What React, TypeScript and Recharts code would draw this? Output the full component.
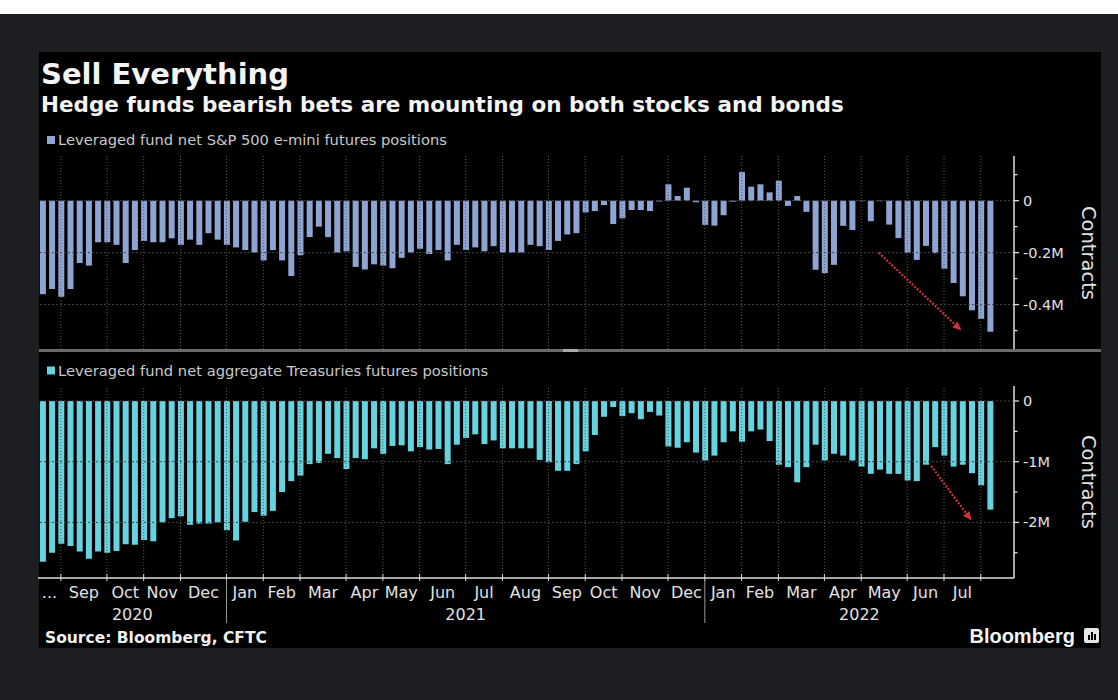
import React from "react";
import { Bar, BarChart, ReferenceLine, XAxis, YAxis } from "recharts";

// weekly CFTC reports, first one in the chart
const FIRST_WEEK = "2020-08-18";

// leveraged fund net S&P 500 e-mini futures positions (millions of contracts)
const spxPositions = [
  -0.36, -0.34, -0.37, -0.34, -0.24, -0.25, -0.16, -0.16, -0.17, -0.24,
  -0.19, -0.155, -0.16, -0.16, -0.145, -0.17, -0.15, -0.17, -0.125, -0.15,
  -0.17, -0.18, -0.19, -0.2, -0.23, -0.19, -0.23, -0.29, -0.21, -0.14,
  -0.1, -0.14, -0.2, -0.195, -0.255, -0.265, -0.245, -0.25, -0.26, -0.22,
  -0.2, -0.185, -0.205, -0.19, -0.23, -0.17, -0.19, -0.18, -0.195, -0.175,
  -0.2, -0.2, -0.2, -0.17, -0.175, -0.19, -0.155, -0.13, -0.125, -0.045,
  -0.04, -0.017, -0.09, -0.068, -0.036, -0.036, -0.04, -0.003, 0.063, 0.018,
  0.05, -0.006, -0.093, -0.096, -0.056, -0.004, 0.11, 0.054, 0.063, 0.032,
  0.077, -0.02, 0.018, -0.043, -0.266, -0.279, -0.247, -0.097, -0.113, -0.002,
  -0.079, -0.002, -0.092, -0.144, -0.202, -0.228, -0.174, -0.202, -0.262, -0.317,
  -0.368, -0.422, -0.455, -0.505,
];

// leveraged fund net aggregate Treasuries futures positions (millions of contracts)
const tsyPositions = [
  -2.65, -2.5, -2.35, -2.39, -2.48, -2.6, -2.48, -2.5, -2.47, -2.36,
  -2.37, -2.29, -2.31, -2.0, -1.93, -1.9, -2.04, -2.02, -2.02, -2.0,
  -2.13, -2.3, -1.99, -1.83, -1.89, -1.81, -1.5, -1.32, -1.23, -1.04,
  -1.02, -0.87, -0.94, -1.12, -0.94, -0.96, -0.78, -0.87, -0.74, -0.73,
  -0.83, -0.76, -0.8, -0.79, -1.04, -0.72, -0.61, -0.55, -0.71, -0.65,
  -0.78, -0.78, -0.78, -0.78, -0.97, -1.01, -1.15, -1.15, -1.04, -0.83,
  -0.56, -0.26, -0.1, -0.25, -0.2, -0.3, -0.18, -0.24, -0.75, -0.77,
  -0.68, -0.85, -0.98, -0.9, -0.68, -0.5, -0.67, -0.5, -0.47, -0.66,
  -1.05, -1.09, -1.34, -1.09, -0.72, -0.98, -0.87, -0.9, -0.98, -1.08,
  -1.2, -1.13, -1.2, -1.2, -1.31, -1.32, -1.05, -0.76, -0.9, -1.08,
  -1.05, -1.19, -1.39, -1.79,
];

// one label per calendar month touched by the data (first and last are partial)
const monthLabels = [
  "...", "Sep", "Oct", "Nov", "Dec",
  "Jan", "Feb", "Mar", "Apr", "May", "Jun", "Jul", "Aug", "Sep", "Oct", "Nov", "Dec",
  "Jan", "Feb", "Mar", "Apr", "May", "Jun", "Jul", "",
];
const yearLabels = ["2020", "2021", "2022"];

const spxMajorTicks = [0, -0.2, -0.4];
const spxMinorTicks = [0.1, -0.1, -0.3, -0.5];
const tsyMajorTicks = [0, -1, -2];
const tsyMinorTicks = [-0.5, -1.5, -2.5];

// hand-drawn red arrows (week index, value)
const spxArrow = [{ x: 90.9, y: -0.2 }, { x: 99.9, y: -0.5 }];
const tsyArrow = [{ x: 96.6, y: -1.07 }, { x: 101, y: -1.97 }];

const PAGE_BG = "#1c1e21";
const SPX_COLOR = "#8ea4d2";
const TSY_COLOR = "#66d3e0";
const AXIS = "#dcdcdc";
const TEXT = "#e2e2e2";
const RED = "#d0313b";
const FONT = "DejaVu Sans, Verdana, sans-serif";

const PLOT_LEFT = 38;
const PLOT_RIGHT = 1014;
const AXIS_W = 87;
const X_MIN = -0.49;
const X_MAX = 105.61;

const weeks = spxPositions.map((_, i) => {
  const d = new Date(FIRST_WEEK + "T00:00:00Z");
  d.setUTCDate(d.getUTCDate() + 7 * i);
  return d;
});

const data = spxPositions.map((v, i) => ({ i, spx: v, tsy: tsyPositions[i] }));

// first bar of every month / year
const monthStarts: number[] = [];
const yearStarts: number[] = [];
weeks.forEach((d, i) => {
  if (i === 0 || d.getUTCMonth() !== weeks[i - 1].getUTCMonth()) monthStarts.push(i);
  if (i > 0 && d.getUTCFullYear() !== weeks[i - 1].getUTCFullYear()) yearStarts.push(i);
});
const gridIdx = monthStarts.slice(1);
const monthCenters = monthStarts.map((s, k) => {
  const a = k === 0 ? X_MIN : s;
  const b = k + 1 < monthStarts.length ? monthStarts[k + 1] : X_MAX;
  return (a + b) / 2;
});
const yearBounds = [X_MIN, ...yearStarts, X_MAX];
const yearCenters = yearLabels.map((_, k) => (yearBounds[k] + yearBounds[k + 1]) / 2);

const fmtM = (v: number) => (v === 0 ? "0" : `${v}M`);

function ValueTick(props: any) {
  const { x, y, payload, majors } = props;
  const major = majors.includes(payload.value);
  return (
    <g>
      <line x1={x} x2={x + (major ? 5 : 3.5)} y1={y} y2={y} stroke={AXIS} strokeWidth={1.3} />
      {major && (
        <text x={x + 9} y={y + 5} fill={TEXT} fontSize={14.5} fontFamily={FONT}>
          {fmtM(payload.value)}
        </text>
      )}
    </g>
  );
}

function MonthTick(props: any) {
  const { x, y, payload } = props;
  const k = monthCenters.indexOf(payload.value);
  if (k < 0) {
    return <line x1={x} x2={x} y1={y - 4} y2={y + 3} stroke={AXIS} strokeWidth={1} />;
  }
  return (
    <text x={x} y={y + 20} textAnchor="middle" fill={TEXT} fontSize={16} fontFamily={FONT}>
      {monthLabels[k]}
    </text>
  );
}

function YearTick(props: any) {
  const { x, y, payload } = props;
  const k = yearCenters.indexOf(payload.value);
  if (k < 0) {
    return <line x1={x} x2={x} y1={y - 19} y2={y + 24} stroke="#9a9a9a" strokeWidth={1} />;
  }
  return (
    <text x={x} y={y + 21} textAnchor="middle" fill={TEXT} fontSize={16} fontFamily={FONT}>
      {yearLabels[k]}
    </text>
  );
}

function Arrow(props: any) {
  const { x1, y1, x2, y2 } = props;
  const a = Math.atan2(y2 - y1, x2 - x1);
  const len = 9;
  const w = 4;
  const bx = x2 - len * Math.cos(a);
  const by = y2 - len * Math.sin(a);
  const pts = [
    `${x2},${y2}`,
    `${bx + w * Math.sin(a)},${by - w * Math.cos(a)}`,
    `${bx - w * Math.sin(a)},${by + w * Math.cos(a)}`,
  ].join(" ");
  return (
    <g>
      <line x1={x1} y1={y1} x2={bx} y2={by} stroke={RED} strokeWidth={2.2} strokeDasharray="2 1.5" />
      <polygon points={pts} fill={RED} />
    </g>
  );
}

function grid(majors: number[]) {
  return [
    ...gridIdx.map((g) => (
      <ReferenceLine key={`v${g}`} x={g} xAxisId="m" stroke="#5a5a5a" strokeDasharray="1 2" />
    )),
    ...majors.map((v) => (
      <ReferenceLine key={`h${v}`} y={v} xAxisId="m" stroke="#444" strokeDasharray="2 2" />
    )),
  ];
}

function SpxChart() {
  return (
    <BarChart
      width={PLOT_RIGHT - PLOT_LEFT + AXIS_W}
      height={193}
      data={data}
      margin={{ top: 0, right: 0, bottom: 0, left: 0 }}
    >
      <XAxis xAxisId="m" dataKey="i" type="number" domain={[X_MIN, X_MAX]} allowDataOverflow hide />
      <YAxis
        orientation="right"
        width={AXIS_W}
        domain={[-0.571, 0.172]}
        allowDataOverflow
        ticks={[...spxMajorTicks, ...spxMinorTicks]}
        interval={0}
        tickSize={0}
        tickMargin={0}
        tickLine={false}
        axisLine={{ stroke: AXIS, strokeWidth: 1.5 }}
        tick={(p: any) => <ValueTick {...p} majors={spxMajorTicks} />}
      />
      {grid(spxMajorTicks)}
      <Bar dataKey="spx" xAxisId="m" fill={SPX_COLOR} barSize={6} isAnimationActive={false} />
      <ReferenceLine xAxisId="m" segment={spxArrow} stroke={RED} shape={(p: any) => <Arrow {...p} />} />
    </BarChart>
  );
}

function TsyChart() {
  return (
    <BarChart
      width={PLOT_RIGHT - PLOT_LEFT + AXIS_W}
      height={192 + 21 + 32}
      data={data}
      margin={{ top: 0, right: 0, bottom: 0, left: 0 }}
    >
      <XAxis
        xAxisId="m"
        dataKey="i"
        type="number"
        domain={[X_MIN, X_MAX]}
        allowDataOverflow
        height={21}
        ticks={[...monthCenters, ...gridIdx]}
        interval={0}
        tickSize={0}
        tickMargin={0}
        tickLine={false}
        axisLine={{ stroke: AXIS, strokeWidth: 1.5 }}
        tick={(p: any) => <MonthTick {...p} />}
      />
      <XAxis
        xAxisId="y"
        dataKey="i"
        type="number"
        domain={[X_MIN, X_MAX]}
        allowDataOverflow
        height={32}
        ticks={[...yearCenters, ...yearStarts]}
        interval={0}
        tickSize={0}
        tickMargin={0}
        tickLine={false}
        axisLine={false}
        tick={(p: any) => <YearTick {...p} />}
      />
      <YAxis
        orientation="right"
        width={AXIS_W}
        domain={[-2.916, 0.247]}
        allowDataOverflow
        ticks={[...tsyMajorTicks, ...tsyMinorTicks]}
        interval={0}
        tickSize={0}
        tickMargin={0}
        tickLine={false}
        axisLine={{ stroke: AXIS, strokeWidth: 1.5 }}
        tick={(p: any) => <ValueTick {...p} majors={tsyMajorTicks} />}
      />
      {grid(tsyMajorTicks)}
      <Bar dataKey="tsy" xAxisId="m" fill={TSY_COLOR} barSize={6} isAnimationActive={false} />
      <ReferenceLine xAxisId="m" segment={tsyArrow} stroke={RED} shape={(p: any) => <Arrow {...p} />} />
    </BarChart>
  );
}

export default function App() {
  return (
    <div
      style={{
        position: "absolute",
        left: 0,
        top: 0,
        width: 1118,
        height: 700,
        background: PAGE_BG,
        overflow: "hidden",
      }}
    >
      <div style={{ position: "absolute", left: 0, top: 0, width: 1118, height: 14, background: "#fff" }} />
      <div style={{ position: "absolute", left: 39, top: 52, width: 1062, height: 596, background: "#000" }} />

      <svg width={1118} height={700} style={{ position: "absolute", left: 0, top: 0 }}>
        <text x={41} y={84} fill="#f4f4f4" fontSize={29} fontWeight="bold" fontFamily={FONT}>
          Sell Everything
        </text>
        <text x={41} y={111.5} fill="#f4f4f4" fontSize={21.5} fontWeight="bold" fontFamily={FONT}>
          Hedge funds bearish bets are mounting on both stocks and bonds
        </text>

        <rect x={47} y={136} width={8} height={8} fill={SPX_COLOR} />
        <text x={58} y={145} fill="#c9c9c9" fontSize={14.7} fontFamily={FONT}>
          Leveraged fund net S&amp;P 500 e-mini futures positions
        </text>
        <rect x={47} y={366.5} width={8} height={8} fill={TSY_COLOR} />
        <text x={58} y={376} fill="#c9c9c9" fontSize={14.7} fontFamily={FONT}>
          Leveraged fund net aggregate Treasuries futures positions
        </text>

        <text
          x={1082}
          y={253}
          transform="rotate(90 1082 253)"
          textAnchor="middle"
          fill={TEXT}
          fontSize={19.5}
          fontFamily={FONT}
        >
          Contracts
        </text>
        <text
          x={1082}
          y={482}
          transform="rotate(90 1082 482)"
          textAnchor="middle"
          fill={TEXT}
          fontSize={19.5}
          fontFamily={FONT}
        >
          Contracts
        </text>

        <text x={45} y={643} fill="#f0f0f0" fontSize={15.5} fontWeight="bold" fontFamily={FONT}>
          Source: Bloomberg, CFTC
        </text>
        <text
          x={1075}
          y={643}
          textAnchor="end"
          fill="#f4f4f4"
          fontSize={20}
          fontWeight="bold"
          fontFamily="Liberation Sans, Arial, sans-serif"
        >
          Bloomberg
        </text>
        <rect x={1084} y={628} width={15} height={15} rx={2} fill="#e6e6e6" />
        <rect x={1088} y={635} width={2} height={5} fill="#000" />
        <rect x={1091} y={632} width={2} height={8} fill="#000" />
        <rect x={1094} y={634} width={2} height={6} fill="#000" />
      </svg>

      <div style={{ position: "absolute", left: 39, top: 349, width: 1062, height: 3, background: "#6a6a6a" }} />
      <div style={{ position: "absolute", left: 563, top: 349, width: 15, height: 3, background: "#aaaaaa" }} />

      <div style={{ position: "absolute", left: PLOT_LEFT, top: 156 }}>
        <SpxChart />
      </div>
      <div style={{ position: "absolute", left: PLOT_LEFT, top: 386 }}>
        <TsyChart />
      </div>
    </div>
  );
}
